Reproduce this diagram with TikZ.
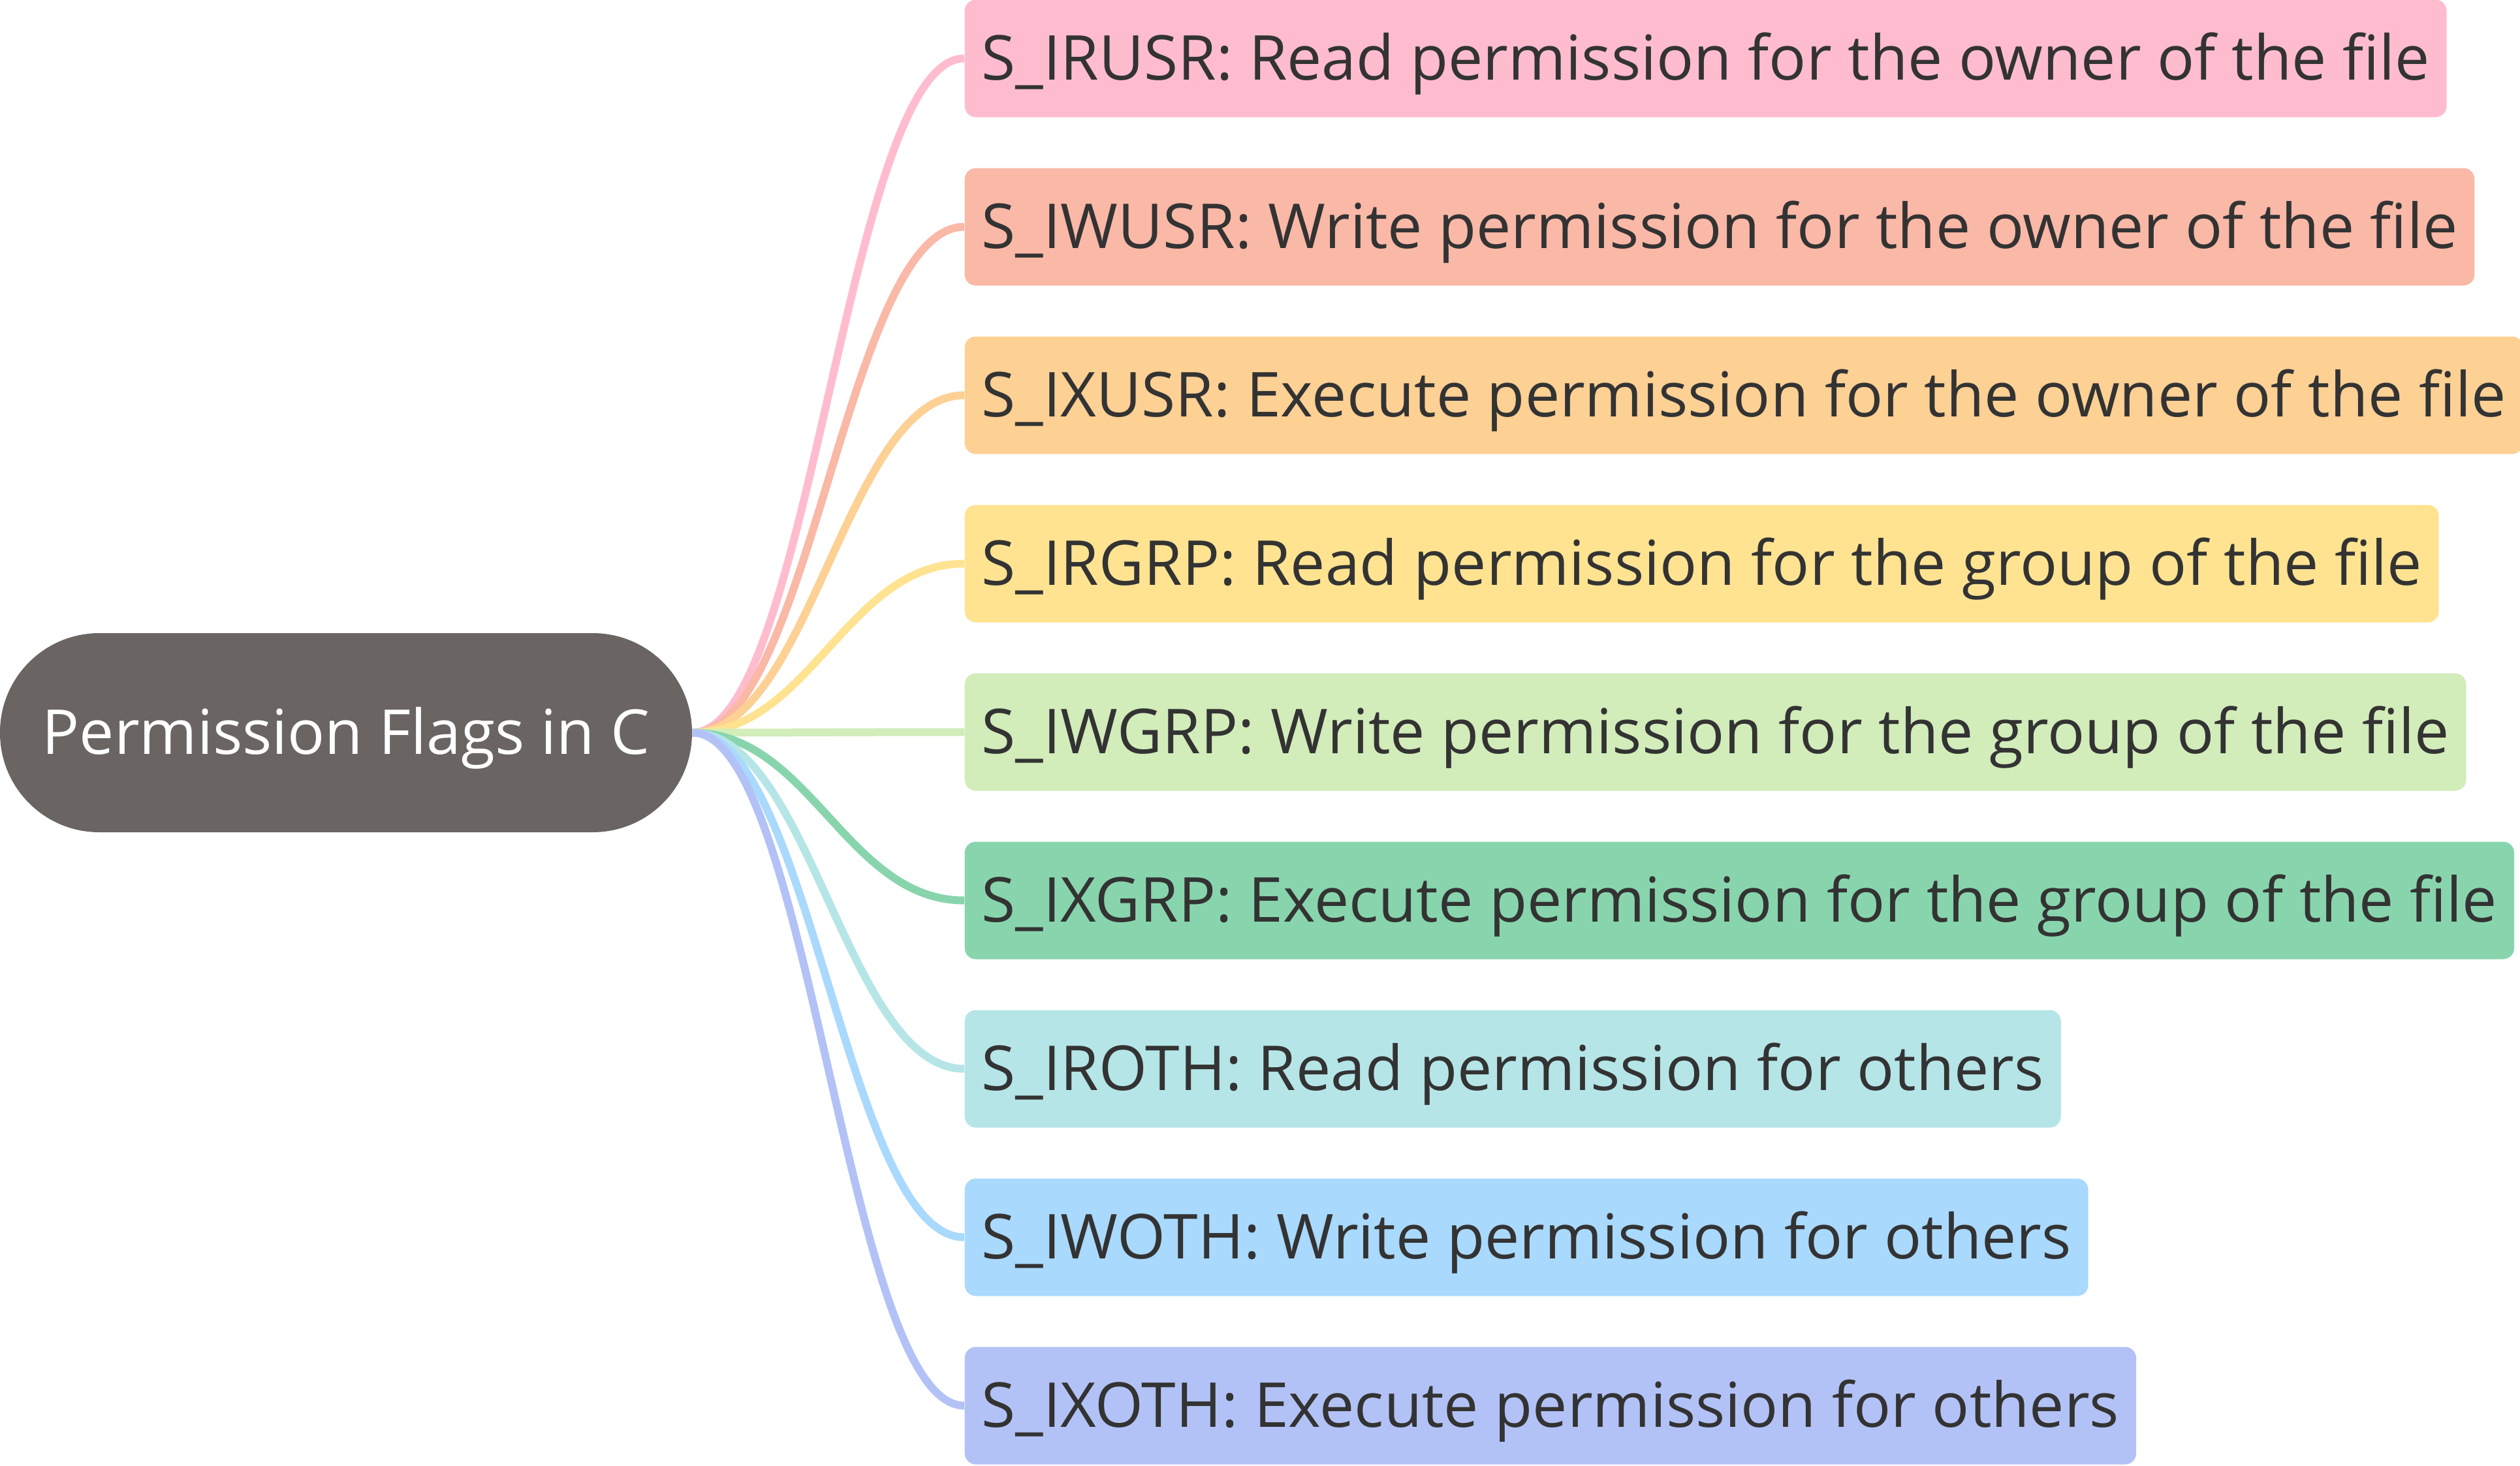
\documentclass[tikz,border=0pt]{standalone}
\usepackage{fontspec}
\setmainfont{Open Sans}

\definecolor{rootgray}{HTML}{6A6463}
\definecolor{textgray}{HTML}{333333}
\definecolor{cpink}{HTML}{FFBCCF}
\definecolor{csalmon}{HTML}{FAB8A7}
\definecolor{corange}{HTML}{FDD094}
\definecolor{cyellow}{HTML}{FFE391}
\definecolor{clime}{HTML}{D2ECBA}
\definecolor{cgreen}{HTML}{88D5AD}
\definecolor{ccyan}{HTML}{B5E5E7}
\definecolor{csky}{HTML}{A9D9FD}
\definecolor{cviolet}{HTML}{B3C2F6}

\tikzstyle{every node}=[align=left]
\tikzstyle{flag}=[anchor=west, rounded corners=0.17cm, minimum height=1.8cm, inner xsep=0.26cm, text height=0.88cm, text depth=0.23cm, text=textgray, font=\fontsize{27}{31}\selectfont]
\tikzstyle{branch}=[line width=0.12cm]

\begin{document}
\begin{tikzpicture}
\useasboundingbox (0,0) rectangle (38.6,-22.45);

\node[fill=rootgray, text=white, rounded corners=1.52cm, minimum width=10.6cm, minimum height=3.05cm, text height=0.88cm, text depth=0.23cm, font=\fontsize{27}{31}\selectfont] (root) at (5.3,-11.225) {Permission Flags in C};

\node[flag, fill=cpink] (irusr) at (14.77,-0.895) {S\_IRUSR: Read permission for the owner of the file};
\node[flag, fill=csalmon] (iwusr) at (14.77,-3.475) {S\_IWUSR: Write permission for the owner of the file};
\node[flag, fill=corange] (ixusr) at (14.77,-6.055) {S\_IXUSR: Execute permission for the owner of the file};
\node[flag, fill=cyellow] (irgrp) at (14.77,-8.635) {S\_IRGRP: Read permission for the group of the file};
\node[flag, fill=clime] (iwgrp) at (14.77,-11.215) {S\_IWGRP: Write permission for the group of the file};
\node[flag, fill=cgreen] (ixgrp) at (14.77,-13.795) {S\_IXGRP: Execute permission for the group of the file};
\node[flag, fill=ccyan] (iroth) at (14.77,-16.375) {S\_IROTH: Read permission for others};
\node[flag, fill=csky] (iwoth) at (14.77,-18.955) {S\_IWOTH: Write permission for others};
\node[flag, fill=cviolet] (ixoth) at (14.77,-21.535) {S\_IXOTH: Execute permission for others};

\draw[branch, draw=cpink] (root.east) .. controls +(1.8,0) and +(-1.8,0) .. (irusr.west);
\draw[branch, draw=csalmon] (root.east) .. controls +(1.8,0) and +(-1.8,0) .. (iwusr.west);
\draw[branch, draw=corange] (root.east) .. controls +(1.8,0) and +(-1.8,0) .. (ixusr.west);
\draw[branch, draw=cyellow] (root.east) .. controls +(1.8,0) and +(-1.8,0) .. (irgrp.west);
\draw[branch, draw=clime] (root.east) .. controls +(1.8,0) and +(-1.8,0) .. (iwgrp.west);
\draw[branch, draw=cgreen] (root.east) .. controls +(1.8,0) and +(-1.8,0) .. (ixgrp.west);
\draw[branch, draw=ccyan] (root.east) .. controls +(1.8,0) and +(-1.8,0) .. (iroth.west);
\draw[branch, draw=csky] (root.east) .. controls +(1.8,0) and +(-1.8,0) .. (iwoth.west);
\draw[branch, draw=cviolet] (root.east) .. controls +(1.8,0) and +(-1.8,0) .. (ixoth.west);

\end{tikzpicture}
\end{document}
